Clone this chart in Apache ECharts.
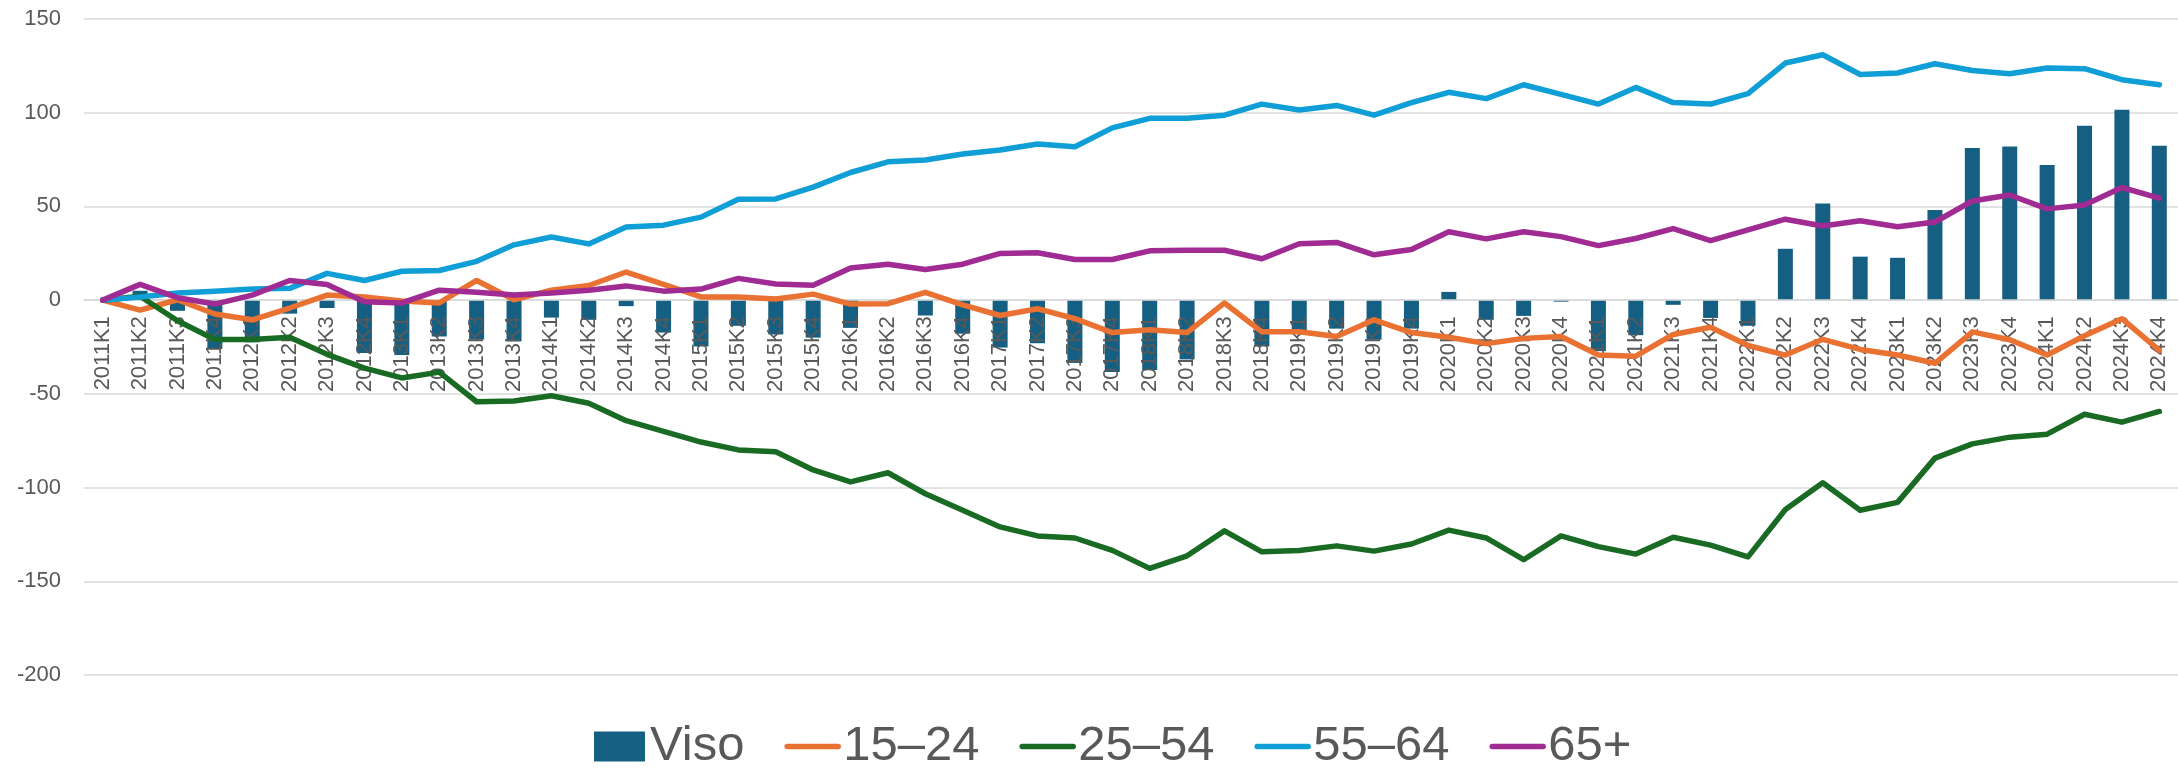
<!DOCTYPE html>
<html>
<head>
<meta charset="utf-8">
<script src="https://cdn.jsdelivr.net/npm/echarts@6/dist/echarts.min.js"></script>
<style>
html,body{margin:0;padding:0;background:#fff;}
#chart{width:2178px;height:771px;}
</style>
</head>
<body>
<div id="chart"></div>
<script>
const categories = [
  '2011K1','2011K2','2011K3','2011K4',
  '2012K1','2012K2','2012K3','2012K4',
  '2013K1','2013K2','2013K3','2013K4',
  '2014K1','2014K2','2014K3','2014K4',
  '2015K1','2015K2','2015K3','2015K4',
  '2016K1','2016K2','2016K3','2016K4',
  '2017K1','2017K2','2017K3','2017K4',
  '2018K1','2018K2','2018K3','2018K4',
  '2019K1','2019K2','2019K3','2019K4',
  '2020K1','2020K2','2020K3','2020K4',
  '2021K1','2021K2','2021K3','2021K4',
  '2022K1','2022K2','2022K3','2022K4',
  '2023K1','2023K2','2023K3','2023K4',
  '2024K1','2024K2','2024K3','2024K4'
];

const viso = [
  0, 5, -5.7, -26,
  -22.5, -7.2, -4.2, -28.2,
  -29.3, -19.4, -21, -22,
  -9.3, -10.5, -3.2, -17.3,
  -24.7, -13.7, -18.3, -20,
  -14.8, 0, -8.2, -17.9,
  -25.3, -23, -33.5, -38.4,
  -37.3, -31.6, 0, -24.7,
  -16, -15.2, -21.1, -15.2,
  4.4, -10.5, -8.4, -0.8,
  -27.2, -18.7, -2.5, -9.5,
  -13.7, 27.4, 51.6, 23.2,
  22.6, 48.1, 81.2, 82.0,
  72.1, 93.0, 101.6, 82.4
];

const age15_24 = [
  0, -5.3, 0.2, -7.4,
  -10.5, -4.2, 2.7, 1.7,
  -0.4, -1.5, 10.5, 0.2,
  5.3, 7.8, 15.0, 8.4,
  1.7, 1.7, 0.6, 3.2,
  -2.1, -1.9, 4.2, -2.5,
  -8.2, -4.6, -9.9, -17.3,
  -15.8, -17.3, -1.5, -16.9,
  -16.9, -19.4, -10.5, -17.3,
  -19.8, -23.2, -20.4, -19.4,
  -29.3, -29.9, -18.3, -14.5,
  -24.2, -29.3, -20.9, -26.3,
  -29.3, -33.7, -16.9, -21.1,
  -29.3, -19.0, -9.9, -26.8
];

const age25_54 = [
  0, 2.1, -11, -21,
  -21, -19.8, -28.9, -36.3,
  -41.5, -38.4, -54.2, -53.8,
  -51, -55, -64.3, -70.0,
  -75.7, -79.9, -80.9, -90.6,
  -97.0, -92.1, -103.3, -112.1,
  -121, -125.8, -126.9, -133.5,
  -143.1, -136.4, -123.1, -134.3,
  -133.6, -131.1, -133.9, -130.1,
  -122.7, -126.9, -138.5, -125.8,
  -131.5, -135.5, -126.5, -130.7,
  -137.0, -111.7, -97.4, -112.1,
  -107.9, -84.3, -76.7, -73.1,
  -71.5, -60.9, -65.1, -59.4
];

const age55_64 = [
  0, 1.7, 3.8, 4.8,
  5.9, 6.3, 14.3, 10.5,
  15.4, 15.8, 20.7, 29.5,
  33.7, 30.0, 39.0, 40.0,
  44.3, 53.8, 54.0, 60.3,
  68.1, 73.8, 74.8, 78.0,
  80.1, 83.3, 81.8, 91.9,
  97.0, 97.0, 98.7, 104.6,
  101.4, 103.9, 98.7, 105.4,
  110.9, 107.5, 114.9, 109.8,
  104.6, 113.5, 105.4, 104.6,
  110.2, 126.5, 130.9, 120.4,
  121.2, 126.1, 122.5, 120.8,
  123.9, 123.5, 117.6, 114.9
];

const age65plus = [
  0, 8.4, 1.3, -2.1,
  2.7, 10.5, 8.4, -0.8,
  -1.5, 5.3, 4.2, 2.7,
  3.8, 5.3, 7.6, 4.8,
  5.9, 11.6, 8.6, 8.0,
  17.1, 19.2, 16.4, 19.2,
  24.9, 25.3, 21.7, 21.7,
  26.3, 26.6, 26.6, 22.1,
  30.1, 30.8, 24.2, 27.0,
  36.5, 32.7, 36.5, 33.9,
  29.1, 32.9, 38.2, 31.8,
  37.5, 43.2, 39.6, 42.4,
  39.2, 41.7, 52.9, 56.1,
  48.7, 50.8, 60.1, 54.4
];

const yTicks = {min: -200, max: 150, interval: 50};

const seriesNames = ['Viso', '15–24', '25–54', '55–64', '65+'];
const colors = ['#156082', '#E97132', '#196B24', '#0F9ED5', '#A02B93'];

const FONT = "'Liberation Sans', Arial, sans-serif";
const TEXT = '#595959';

const chart = echarts.init(document.getElementById('chart'), null, {renderer: 'canvas'});

function lineSeries(name, data, color) {
  return {
    name: name,
    type: 'line',
    data: data,
    z: 4,
    symbol: 'none',
    showSymbol: false,
    lineStyle: {color: color, width: 5.5, cap: 'round', join: 'round'},
    itemStyle: {color: color},
    emphasis: {disabled: true}
  };
}

const hiddenSymbol = {color: 'rgba(0,0,0,0)', borderWidth: 0, opacity: 0};

chart.setOption({
  animation: false,
  backgroundColor: '#ffffff',
  textStyle: {fontFamily: FONT},
  grid: {left: 84, right: 0, top: 19, bottom: 96, containLabel: false},
  legend: {
    left: 589,
    top: 717,
    itemWidth: 51,
    itemHeight: 30,
    itemGap: 40,
    textStyle: {fontSize: 49, color: TEXT, fontFamily: FONT},
    lineStyle: {width: 5.5, cap: 'round'},
    data: [
      {name: seriesNames[0], icon: 'rect'},
      {name: seriesNames[1], itemStyle: hiddenSymbol},
      {name: seriesNames[2], itemStyle: hiddenSymbol},
      {name: seriesNames[3], itemStyle: hiddenSymbol},
      {name: seriesNames[4], itemStyle: hiddenSymbol}
    ]
  },
  xAxis: {
    type: 'category',
    data: categories,
    z: 3,
    boundaryGap: true,
    axisLine: {onZero: false, lineStyle: {color: '#d9d9d9', width: 1.5}},
    axisTick: {show: false},
    axisLabel: {
      rotate: 90,
      interval: 0,
      margin: 16,
      fontSize: 22,
      color: TEXT,
      fontFamily: FONT
    },
    splitLine: {show: false}
  },
  yAxis: {
    type: 'value',
    min: yTicks.min,
    max: yTicks.max,
    interval: yTicks.interval,
    axisLine: {show: false},
    axisTick: {show: false},
    axisLabel: {fontSize: 22, color: TEXT, margin: 23, fontFamily: FONT},
    splitLine: {lineStyle: {color: '#d9d9d9', width: 1.5}}
  },
  series: [
    {
      name: seriesNames[0],
      type: 'bar',
      data: viso,
      z: 1,
      barWidth: 15,
      itemStyle: {color: colors[0]},
      emphasis: {disabled: true}
    },
    lineSeries(seriesNames[1], age15_24, colors[1]),
    lineSeries(seriesNames[2], age25_54, colors[2]),
    lineSeries(seriesNames[3], age55_64, colors[3]),
    lineSeries(seriesNames[4], age65plus, colors[4])
  ]
});

// Move the category axis (line + labels) up to the zero value, using the library's own scale.
const yZero = chart.convertToPixel({yAxisIndex: 0}, 0);
const yBottom = chart.convertToPixel({yAxisIndex: 0}, yTicks.min);
chart.setOption({xAxis: {offset: yZero - yBottom}});
</script>
</body>
</html>
